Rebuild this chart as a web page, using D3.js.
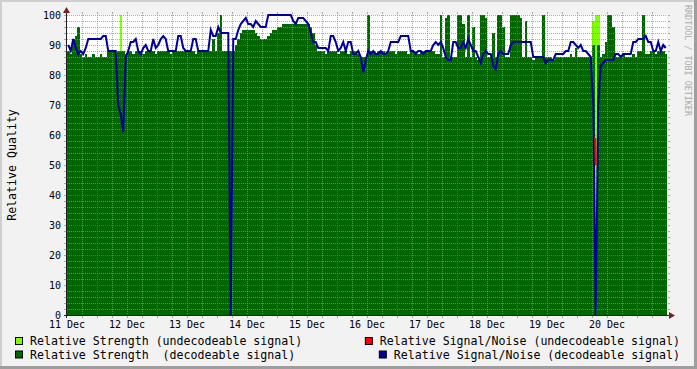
<!DOCTYPE html>
<html>
<head>
<meta charset="utf-8">
<script src="https://cdn.jsdelivr.net/npm/d3@7"></script>
<style>
  body { margin: 0; background: #f2f2f2; }
  svg { display: block; font-family: "DejaVu Sans Mono", monospace; }
</style>
</head>
<body>
<div id="chart"></div>
<script>
// hourly samples starting 11 Dec 12:00 (240 hours)
var strengthDecodeable = [
  88, 87, 92, 93, 96, 87, 86, 87, 86, 86,
  87, 86, 86, 87, 86, 86, 88, 88, 88, 87,
  88, 88, 88, 87, 88, 88, 87, 88, 88, 88,
  87, 88, 88, 88, 88, 87, 88, 88, 88, 88,
  88, 87, 88, 88, 88, 88, 88, 88, 88, 88,
  88, 87, 88, 88, 88, 88, 88, 88, 92, 88,
  94, 100, 88, 88, 88, 88, 88, 90, 92, 94,
  95, 95, 95, 95, 95, 94, 93, 92, 92, 92,
  93, 94, 95, 95, 96, 96, 97, 97, 97, 97,
  97, 97, 97, 97, 97, 97, 97, 96, 94, 90,
  88, 88, 88, 87, 88, 88, 88, 88, 87, 88,
  88, 88, 87, 88, 88, 88, 87, 86, 86, 86,
  100, 88, 88, 87, 88, 88, 88, 87, 88, 88,
  88, 87, 88, 88, 88, 88, 87, 88, 88, 88,
  87, 88, 88, 88, 88, 88, 88, 87, 87, 100,
  86, 99, 100, 86, 86, 86, 100, 100, 97, 86,
  100, 86, 96, 86, 85, 100, 100, 99, 86, 86,
  94, 86, 100, 100, 96, 86, 86, 100, 100, 100,
  100, 99, 86, 98, 86, 86, 85, 86, 86, 86,
  100, 86, 86, 86, 85, 86, 86, 86, 86, 86,
  86, 87, 86, 89, 86, 86, 86, 86, 86, 86,
  90, null, 90, 86, 87, 91, 100, 100, 96, 86,
  86, 86, 87, 86, 86, 86, 87, 86, 88, 88,
  100, 87, 87, 88, 88, 87, 88, 88, 88, 87
];

var snrDecodeable = [
  90, 88, 92, 89, 87, 88, 87, 89, 92, 92,
  92, 92, 92, 92, 93, 93, 88, 88, 88, 88,
  70, 67, 61, 86, 88, 91, 91, 92, 88, 87,
  89, 90, 88, 88, 92, 89, 90, 92, 93, 92,
  88, 88, 88, 88, 93, 93, 89, 88, 88, 88,
  92, 92, 88, 88, 88, 88, 88, 95, 93, 93,
  96, 94, 94, 94, 94, 0, 92, 92, 95, 97,
  98, 99, 97, 97, 96, 98, 97, 96, 96, 96,
  100, 100, 100, 100, 100, 100, 100, 100, 100, 100,
  98, 97, 99, 99, 99, 98, 97, 94, 91, 91,
  89, 89, 89, 89, 88, 93, 93, 91, 88, 89,
  91, 88, 91, 91, 87, 87, 88, 86, 81, 85,
  88, 87, 88, 87, 87, 88, 87, 87, 88, 91,
  91, 91, 91, 93, 93, 93, 93, 88, 88, 87,
  88, 88, 87, 88, 88, 88, 90, 91, 90, 91,
  89, 86, 85, 85, 91, 91, 89, 89, 91, 89,
  92, 90, 88, 88, 86, 84, 87, 88, 87, 87,
  83, 82, 87, 88, 87, 87, 87, 90, 91, 91,
  91, 91, 91, 91, 91, 91, 86, 86, 86, 86,
  86, 84, 85, 85, 85, 87, 87, 87, 87, 88,
  88, 91, 91, 90, 89, 90, 88, 88, 87, 86,
  70, 0, 70, 83, 84, 85, 85, 85, 85, 87,
  87, 86, 87, 87, 87, 87, 91, 91, 92, 92,
  92, 93, 91, 91, 88, 88, 91, 88, 90, 89
];

// [hour, value]
var strengthUndecodeable = [[21, 100], [210, 98], [211, 100], [212, 100]];
var snrUndecodeable = [[211.3, 59], [211.5, 50]];

var yTicks = [0, 10, 20, 30, 40, 50, 60, 70, 80, 90, 100];
var dayLabels = ["11 Dec", "12 Dec", "13 Dec", "14 Dec", "15 Dec", "16 Dec", "17 Dec", "18 Dec", "19 Dec", "20 Dec"];

var svgWidth = 697;
var svgHeight = 369;
var margin = { top: 15, left: 67 };
var width = 600;
var height = 300;

var startTime = new Date(2008, 11, 11, 12, 0, 0);
var endTime = d3.timeHour.offset(startTime, 240);
function hourTime(h) {
  return new Date(startTime.getTime() + h * 3600 * 1000);
}

var svg = d3.select("#chart").append("svg")
  .attr("width", svgWidth)
  .attr("height", svgHeight);

// background + shade frame
svg.append("rect").attr("width", svgWidth).attr("height", svgHeight).attr("fill", "#f2f2f2");
svg.append("path").attr("d", "M0,0H697V2H2V369H0Z").attr("fill", "#cfcfcf");
svg.append("path").attr("d", "M697,0V369H0V366H694V0Z").attr("fill", "#9e9e9e");

var chartGroup = svg.append("g")
  .attr("transform", `translate(${margin.left}, ${margin.top})`);

var xScale = d3.scaleTime().domain([startTime, endTime]).range([0, width]);
var yScale = d3.scaleLinear().domain([0, 100]).range([height, 0]);

chartGroup.append("rect")
  .attr("width", width)
  .attr("height", height)
  .attr("fill", "#ffffff");

// undecodeable strength (lime) under the decodeable area
chartGroup.selectAll(".lime")
  .data(strengthUndecodeable)
  .enter()
  .append("rect")
  .attr("class", "lime")
  .attr("x", d => xScale(hourTime(d[0])))
  .attr("width", d => xScale(hourTime(d[0] + 1)) - xScale(hourTime(d[0])))
  .attr("y", d => yScale(d[1]))
  .attr("height", d => yScale(0) - yScale(d[1]))
  .attr("fill", "#7fff00")
  .attr("shape-rendering", "crispEdges");

// decodeable strength area drawn as steps
var greenPts = [];
strengthDecodeable.forEach(function (v, i) {
  if (v === null) {
    greenPts.push(null);
  } else {
    greenPts.push({ t: hourTime(i), v: v }, { t: hourTime(i + 1), v: v });
  }
});

var greenArea = d3.area()
  .defined(d => d !== null)
  .x(d => xScale(d.t))
  .y0(height)
  .y1(d => yScale(d.v));

chartGroup.append("path")
  .datum(greenPts)
  .attr("d", greenArea)
  .attr("fill", "#006600")
  .attr("shape-rendering", "crispEdges");

// grid
var gridColor = "rgba(143,143,143,0.75)";
var mgridColor = "rgba(222,79,79,0.6)";
var gridGroup = chartGroup.append("g");

var minorY = d3.range(2, 100, 2).filter(v => v % 10 !== 0);
var majorY = yTicks.filter(v => v > 0);
var minorX = d3.timeHour.every(6).range(d3.timeHour.offset(startTime, 1), endTime)
  .filter(t => t.getHours() !== 0);
var majorX = d3.timeDay.range(startTime, endTime);

function hLines(vals, color) {
  vals.forEach(function (v) {
    var yy = Math.round(yScale(v)) + 0.5;
    gridGroup.append("line").attr("x1", 0).attr("x2", width).attr("y1", yy).attr("y2", yy)
      .attr("stroke", color).attr("stroke-dasharray", "1,1");
    gridGroup.append("line").attr("x1", -3).attr("x2", -1).attr("y1", yy).attr("y2", yy).attr("stroke", color);
    gridGroup.append("line").attr("x1", width + 1).attr("x2", width + 3).attr("y1", yy).attr("y2", yy).attr("stroke", color);
  });
}
function vLines(vals, color) {
  vals.forEach(function (t) {
    var xx = Math.round(xScale(t)) + 0.5;
    gridGroup.append("line").attr("x1", xx).attr("x2", xx).attr("y1", 0).attr("y2", height)
      .attr("stroke", color).attr("stroke-dasharray", "1,1");
    gridGroup.append("line").attr("x1", xx).attr("x2", xx).attr("y1", -3).attr("y2", -1).attr("stroke", color);
    gridGroup.append("line").attr("x1", xx).attr("x2", xx).attr("y1", height + 1).attr("y2", height + 3).attr("stroke", color);
  });
}
hLines(minorY, gridColor);
vLines(minorX, gridColor);
hLines(majorY, mgridColor);
vLines(majorX, mgridColor);

// undecodeable signal/noise (red)
var redLine = d3.line()
  .x(d => xScale(hourTime(d[0])))
  .y(d => yScale(d[1]));

// decodeable signal/noise (blue)
var blueLine = d3.line()
  .x((d, i) => xScale(hourTime(i + 0.5)))
  .y(d => yScale(d));

chartGroup.append("path")
  .datum(snrDecodeable)
  .attr("d", blueLine)
  .attr("fill", "none")
  .attr("stroke", "#000099")
  .attr("stroke-width", 2);

chartGroup.append("path")
  .datum(snrUndecodeable)
  .attr("d", redLine)
  .attr("fill", "none")
  .attr("stroke", "#ff0000")
  .attr("stroke-width", 2);

// axes lines + arrows
chartGroup.append("line")
  .attr("x1", -3).attr("x2", width + 4)
  .attr("y1", height + 0.5).attr("y2", height + 0.5)
  .attr("stroke", "#1f1f1f");
chartGroup.append("line")
  .attr("x1", -0.5).attr("x2", -0.5)
  .attr("y1", height + 3).attr("y2", -4)
  .attr("stroke", "#1f1f1f");
chartGroup.append("path")
  .attr("d", `M${width + 2},${height - 3}L${width + 8},${height + 0.5}L${width + 2},${height + 4}Z`)
  .attr("fill", "#7f1f1f");
chartGroup.append("path")
  .attr("d", "M-4,-2L-0.5,-8L3,-2Z")
  .attr("fill", "#7f1f1f");

// tick labels
chartGroup.selectAll(".ylab")
  .data(yTicks)
  .enter()
  .append("text")
  .attr("class", "ylab")
  .attr("x", -6)
  .attr("y", d => yScale(d) + 3.5)
  .attr("text-anchor", "end")
  .attr("font-size", "10px")
  .text(d => d);

chartGroup.selectAll(".xlab")
  .data(dayLabels)
  .enter()
  .append("text")
  .attr("class", "xlab")
  .attr("x", (d, i) => xScale(hourTime(i * 24)))
  .attr("y", height + 13)
  .attr("text-anchor", "middle")
  .attr("font-size", "10px")
  .text(d => d);

// y title
svg.append("text")
  .attr("transform", "translate(16, 165) rotate(-90)")
  .attr("text-anchor", "middle")
  .attr("font-size", "11.6px")
  .text("Relative Quality");

// watermark
svg.append("text")
  .attr("transform", "translate(685, 5) rotate(90)")
  .attr("font-size", "8.4px")
  .attr("fill", "#ababab")
  .text("RRDTOOL / TOBI OETIKER");

// legend
var legendItems = [
  { label: "Relative Strength (undecodeable signal)", color: "#7fff00", row: 0, side: "left" },
  { label: "Relative Signal/Noise (undecodeable signal)", color: "#ff0000", row: 0, side: "right" },
  { label: "Relative Strength  (decodeable signal)", color: "#006600", row: 1, side: "left" },
  { label: "Relative Signal/Noise (decodeable signal)", color: "#000099", row: 1, side: "right" }
];
legendItems.forEach(function (item) {
  var baseY = 345 + item.row * 13.5;
  var txt = svg.append("text")
    .attr("y", baseY)
    .attr("font-size", "11.6px")
    .attr("xml:space", "preserve")
    .style("white-space", "pre")
    .text(item.label);
  var textX = 30;
  if (item.side === "right") {
    textX = 680 - txt.node().getComputedTextLength();
  }
  txt.attr("x", textX);
  svg.append("rect")
    .attr("x", textX - 14.5).attr("y", baseY - 7.5)
    .attr("width", 7).attr("height", 7)
    .attr("fill", item.color)
    .attr("stroke", "#000");
});
</script>
</body>
</html>
